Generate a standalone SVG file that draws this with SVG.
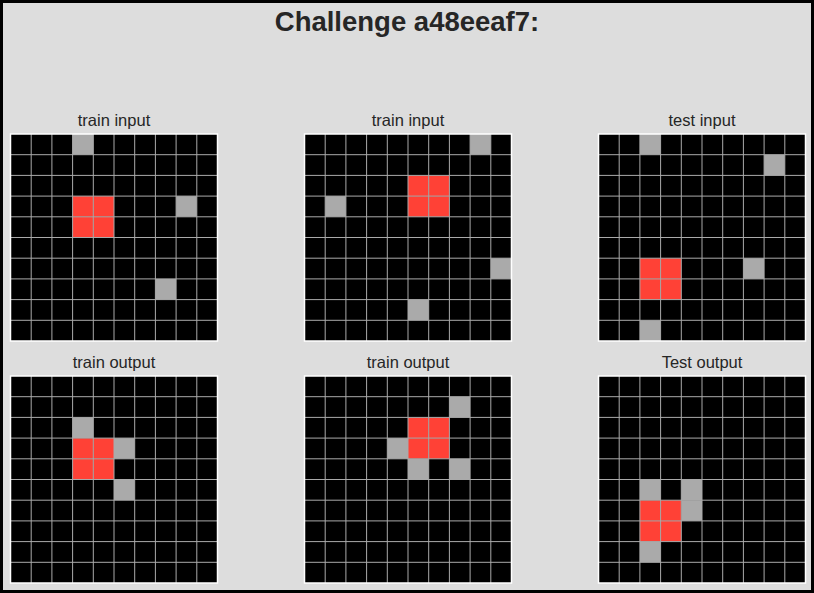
<svg xmlns="http://www.w3.org/2000/svg" xmlns:xlink="http://www.w3.org/1999/xlink" width="814" height="593" viewBox="0 0 814 593">
<style>
.lbl{font-family:"Liberation Sans",Arial,sans-serif;font-size:16.5px;fill:#262626;text-anchor:middle}
.ttl{font-family:"Liberation Sans",Arial,sans-serif;font-size:27.5px;font-weight:bold;fill:#262626;text-anchor:middle}
.r{fill:#FF4136}
.g{fill:#AAAAAA}
.gl{stroke:#AAAAAA;stroke-width:1;fill:none}
</style>
<defs>
<path id="lines" class="gl" d="M20.7 0V207M41.4 0V207M62.1 0V207M82.8 0V207M103.5 0V207M124.2 0V207M144.9 0V207M165.6 0V207M186.3 0V207M0 20.7H207M0 41.4H207M0 62.1H207M0 82.8H207M0 103.5H207M0 124.2H207M0 144.9H207M0 165.6H207M0 186.3H207"/>
<rect id="bg" width="207" height="207" fill="#000"/>
<rect id="border" width="207" height="207" fill="none" stroke="#fff" stroke-width="1.5"/>
<rect id="c" width="20.7" height="20.7"/>
</defs>
<rect x="1.5" y="1.5" width="811" height="590" fill="#DDDDDD" stroke="#000" stroke-width="3"/>
<text class="ttl" x="407" y="31">Challenge a48eeaf7:</text>

<g id="train-input-1" transform="translate(10.5,134)">
<text class="lbl" x="103.5" y="-8">train input</text>
<use href="#bg"/>
<use href="#c" class="g" x="62.1" y="0"/>
<use href="#c" class="r" x="62.1" y="62.1"/><use href="#c" class="r" x="82.8" y="62.1"/>
<use href="#c" class="r" x="62.1" y="82.8"/><use href="#c" class="r" x="82.8" y="82.8"/>
<use href="#c" class="g" x="165.6" y="62.1"/>
<use href="#c" class="g" x="144.9" y="144.9"/>
<use href="#lines"/><use href="#border"/>
</g>

<g id="train-input-2" transform="translate(304.5,134)">
<text class="lbl" x="103.5" y="-8">train input</text>
<use href="#bg"/>
<use href="#c" class="g" x="165.6" y="0"/>
<use href="#c" class="r" x="103.5" y="41.4"/><use href="#c" class="r" x="124.2" y="41.4"/>
<use href="#c" class="r" x="103.5" y="62.1"/><use href="#c" class="r" x="124.2" y="62.1"/>
<use href="#c" class="g" x="20.7" y="62.1"/>
<use href="#c" class="g" x="186.3" y="124.2"/>
<use href="#c" class="g" x="103.5" y="165.6"/>
<use href="#lines"/><use href="#border"/>
</g>

<g id="test-input" transform="translate(598.5,134)">
<text class="lbl" x="103.5" y="-8">test input</text>
<use href="#bg"/>
<use href="#c" class="g" x="41.4" y="0"/>
<use href="#c" class="g" x="165.6" y="20.7"/>
<use href="#c" class="r" x="41.4" y="124.2"/><use href="#c" class="r" x="62.1" y="124.2"/>
<use href="#c" class="r" x="41.4" y="144.9"/><use href="#c" class="r" x="62.1" y="144.9"/>
<use href="#c" class="g" x="144.9" y="124.2"/>
<use href="#c" class="g" x="41.4" y="186.3"/>
<use href="#lines"/><use href="#border"/>
</g>

<g id="train-output-1" transform="translate(10.5,376)">
<text class="lbl" x="103.5" y="-8">train output</text>
<use href="#bg"/>
<use href="#c" class="g" x="62.1" y="41.4"/>
<use href="#c" class="r" x="62.1" y="62.1"/><use href="#c" class="r" x="82.8" y="62.1"/>
<use href="#c" class="r" x="62.1" y="82.8"/><use href="#c" class="r" x="82.8" y="82.8"/>
<use href="#c" class="g" x="103.5" y="62.1"/>
<use href="#c" class="g" x="103.5" y="103.5"/>
<use href="#lines"/><use href="#border"/>
</g>

<g id="train-output-2" transform="translate(304.5,376)">
<text class="lbl" x="103.5" y="-8">train output</text>
<use href="#bg"/>
<use href="#c" class="g" x="144.9" y="20.7"/>
<use href="#c" class="r" x="103.5" y="41.4"/><use href="#c" class="r" x="124.2" y="41.4"/>
<use href="#c" class="r" x="103.5" y="62.1"/><use href="#c" class="r" x="124.2" y="62.1"/>
<use href="#c" class="g" x="82.8" y="62.1"/>
<use href="#c" class="g" x="103.5" y="82.8"/>
<use href="#c" class="g" x="144.9" y="82.8"/>
<use href="#lines"/><use href="#border"/>
</g>

<g id="test-output" transform="translate(598.5,376)">
<text class="lbl" x="103.5" y="-8">Test output</text>
<use href="#bg"/>
<use href="#c" class="g" x="41.4" y="103.5"/>
<use href="#c" class="g" x="82.8" y="103.5"/>
<use href="#c" class="g" x="82.8" y="124.2"/>
<use href="#c" class="r" x="41.4" y="124.2"/><use href="#c" class="r" x="62.1" y="124.2"/>
<use href="#c" class="r" x="41.4" y="144.9"/><use href="#c" class="r" x="62.1" y="144.9"/>
<use href="#c" class="g" x="41.4" y="165.6"/>
<use href="#lines"/><use href="#border"/>
</g>
</svg>
